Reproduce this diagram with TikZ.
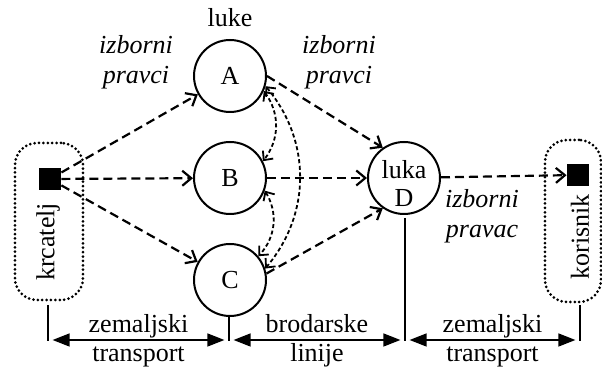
\documentclass[tikz,border=0pt]{standalone}
\usepackage{fontspec}
\setmainfont{Liberation Serif}
\usetikzlibrary{arrows.meta,positioning}

\begin{document}
\begin{tikzpicture}[x=0.5pt,y=-0.5pt,font=\fontsize{13}{15}\selectfont]
\tikzstyle{port}=[circle,draw,line width=1pt,minimum size=36pt,inner sep=0pt]
\tikzstyle{endpt}=[fill=black,minimum size=11pt,inner sep=0pt]
\tikzstyle{dotbox}=[draw,rounded corners=11pt,line width=1.5pt,dash pattern=on 0pt off 2.2pt,line cap=round]
\tikzstyle{route}=[line width=1.1pt,dash pattern=on 4.5pt off 2.5pt,-{Straight Barb[length=4.5pt,width=7.5pt]}]
\tikzstyle{swap}=[line width=0.9pt,dash pattern=on 2pt off 1.3pt,{Straight Barb[length=3.5pt,width=6.5pt]}-{Straight Barb[length=3.5pt,width=6.5pt]}]
\tikzstyle{span}=[line width=0.7pt,shorten <=2.3pt,shorten >=2.3pt,{Triangle[length=8.5pt,width=6.5pt]}-{Triangle[length=8.5pt,width=6.5pt]}]
\tikzstyle{tick}=[line width=0.6pt]
\tikzstyle{upper}=[anchor=base,yshift=3.5pt]
\tikzstyle{lower}=[anchor=base,yshift=-11pt]
\tikzstyle{choice}=[font=\fontsize{13}{15}\selectfont\itshape,align=center]
\tikzstyle{every node}+=[node distance=51pt]

\useasboundingbox (0,0) rectangle (602,367);

% ports
\node (ports) at (230,18) {luke};
\node[port] (a) at (230,76) {A};
\node[port,below of=a] (b) {B};
\node[port,below of=b] (c) {C};
\node[port] (d) at (404,178) {};
\node[align=center] (dname) at ([yshift=-3pt]d.center) {luka\\[-1pt]D};

% shipper and receiver
\node[dotbox,minimum width=34pt,minimum height=78.5pt] (srcbox) at (49,221.5) {};
\node[dotbox,minimum width=28pt,minimum height=81pt] (dstbox) at (573,221) {};
\node[endpt] (src) at (50,179) {};
\node[endpt] (dst) at (578,175) {};
\node[rotate=90] (srcname) at (48,242) {krcatelj};
\node[rotate=90] (dstname) at (580,237) {korisnik};

\node[choice] (choicea) at (136,62) {izborni\\pravci};
\node[choice] (choiceb) at (339,62) {izborni\\pravci};
\node[choice] (choiced) at (482,216) {izborni\\pravac};

% routes
\draw[route] (src) -- (a);
\draw[route] (src) -- (b);
\draw[route] (src) -- (c);
\draw[route] (a.east) -- (d.125);
\draw[route] (b) -- (d);
\draw[route] (c.10) -- (d.235);
\draw[route] (d) -- (dst);

\draw[swap] (a.-24) to[bend left=37] (b.27);
\draw[swap] (b.-20) to[bend left=37] (c.40);
\draw[swap] (a.-16) to[bend left=40] (c.18);

% transport legs
\coordinate (s1) at (48,305);
\coordinate (s2) at (229,316);
\coordinate (s3) at (405,218);
\coordinate (s4) at (580,305);
\coordinate (t1) at (48,341);
\coordinate (t2) at (229,341);
\coordinate (t3) at (405,341);
\coordinate (t4) at (580,341);
\foreach \i in {1,...,4}
  \draw[tick] (s\i) -- (t\i);

\draw[span] ([yshift=0.5pt]t1) -- node[upper] (leg1a) {zemaljski} node[lower] (leg1b) {transport} ([yshift=0.5pt]t2);
\draw[span] ([yshift=0.5pt]t2) -- node[upper] (leg2a) {brodarske} node[lower] (leg2b) {linije} ([yshift=0.5pt]t3);
\draw[span] ([yshift=0.5pt]t3) -- node[upper] (leg3a) {zemaljski} node[lower] (leg3b) {transport} ([yshift=0.5pt]t4);
\end{tikzpicture}
\end{document}
